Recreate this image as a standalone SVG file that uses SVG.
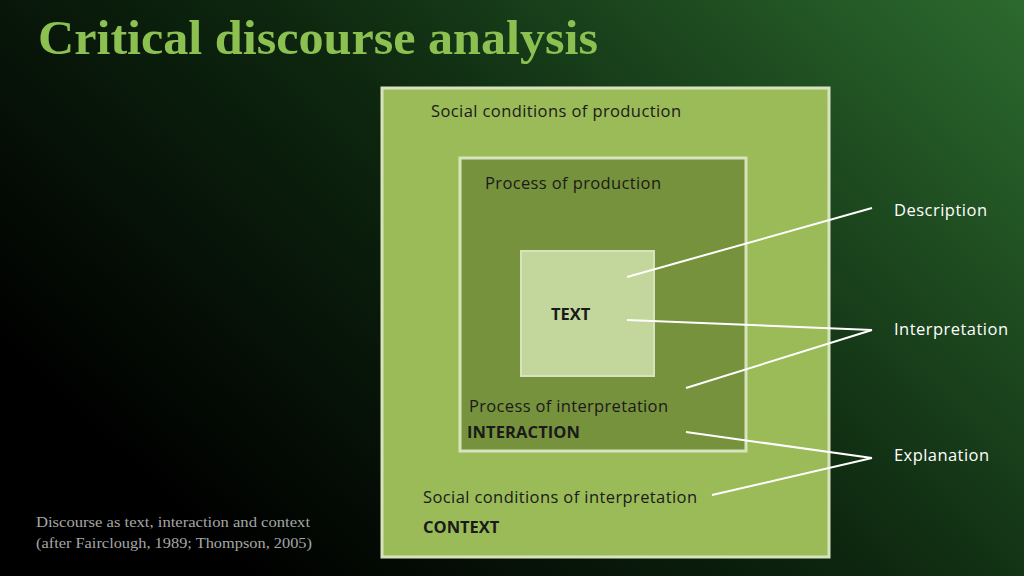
<svg xmlns="http://www.w3.org/2000/svg" width="1024" height="576" viewBox="0 0 1024 576">
<style>
.t{font-family:"Open Sans","Liberation Sans",sans-serif;font-size:16.5px;fill:#1a1a1a}
.b{font-weight:bold}
.w{font-family:"Open Sans","Liberation Sans",sans-serif;font-size:16.5px;fill:#ffffff}
.c line{stroke:#ffffff;stroke-width:2}
</style>
<defs>
<linearGradient id="bg" x1="0" y1="0.6" x2="1" y2="0">
<stop offset="0" stop-color="#000000"/>
<stop offset="0.45" stop-color="#0d260f"/>
<stop offset="1" stop-color="#2c6a2e"/>
</linearGradient>
</defs>
<rect width="1024" height="576" fill="url(#bg)"/>
<text x="38" y="54" font-family="Liberation Serif,serif" font-weight="bold" font-size="48" fill="#8cc152" textLength="560" lengthAdjust="spacingAndGlyphs">Critical discourse analysis</text>
<g id="outer"><rect x="382" y="88" width="447" height="469" fill="#9bbb59" stroke="#d7e3bc" stroke-width="3"/>
<text class="t" x="431" y="117" textLength="250">Social conditions of production</text>
<text class="t" x="423" y="503" textLength="274">Social conditions of interpretation</text>
<text class="t b" x="423" y="533">CONTEXT</text></g>
<g id="middle"><rect x="460" y="158" width="286" height="293" fill="#76923c" stroke="#d7e3bc" stroke-width="3"/>
<text class="t" x="485" y="189" textLength="176">Process of production</text>
<text class="t" x="469" y="412" textLength="199">Process of interpretation</text>
<text class="t b" x="467" y="438" textLength="113">INTERACTION</text></g>
<g id="inner"><rect x="521" y="251" width="133" height="125" fill="#c3d69b" stroke="#d7e3bc" stroke-width="2"/>
<text class="t b" x="551" y="320">TEXT</text></g>
<g id="labels">
<text class="w" x="894" y="216" textLength="93">Description</text>
<text class="w" x="894" y="335" textLength="114">Interpretation</text>
<text class="w" x="894" y="461" textLength="95">Explanation</text>
</g>
<g class="c">
<line x1="627" y1="277" x2="872" y2="208"/>
<line x1="627" y1="320" x2="872" y2="330"/>
<line x1="686" y1="388" x2="872" y2="330"/>
<line x1="686" y1="432" x2="872" y2="458"/>
<line x1="712" y1="495" x2="872" y2="458"/>
</g>
<text x="36" y="527" font-family="Liberation Serif,serif" font-size="15" fill="#a6a6a6" textLength="274" lengthAdjust="spacingAndGlyphs">Discourse as text, interaction and context</text>
<text x="36" y="548" font-family="Liberation Serif,serif" font-size="15" fill="#a6a6a6" textLength="276" lengthAdjust="spacingAndGlyphs">(after Fairclough, 1989; Thompson, 2005)</text>
</svg>
